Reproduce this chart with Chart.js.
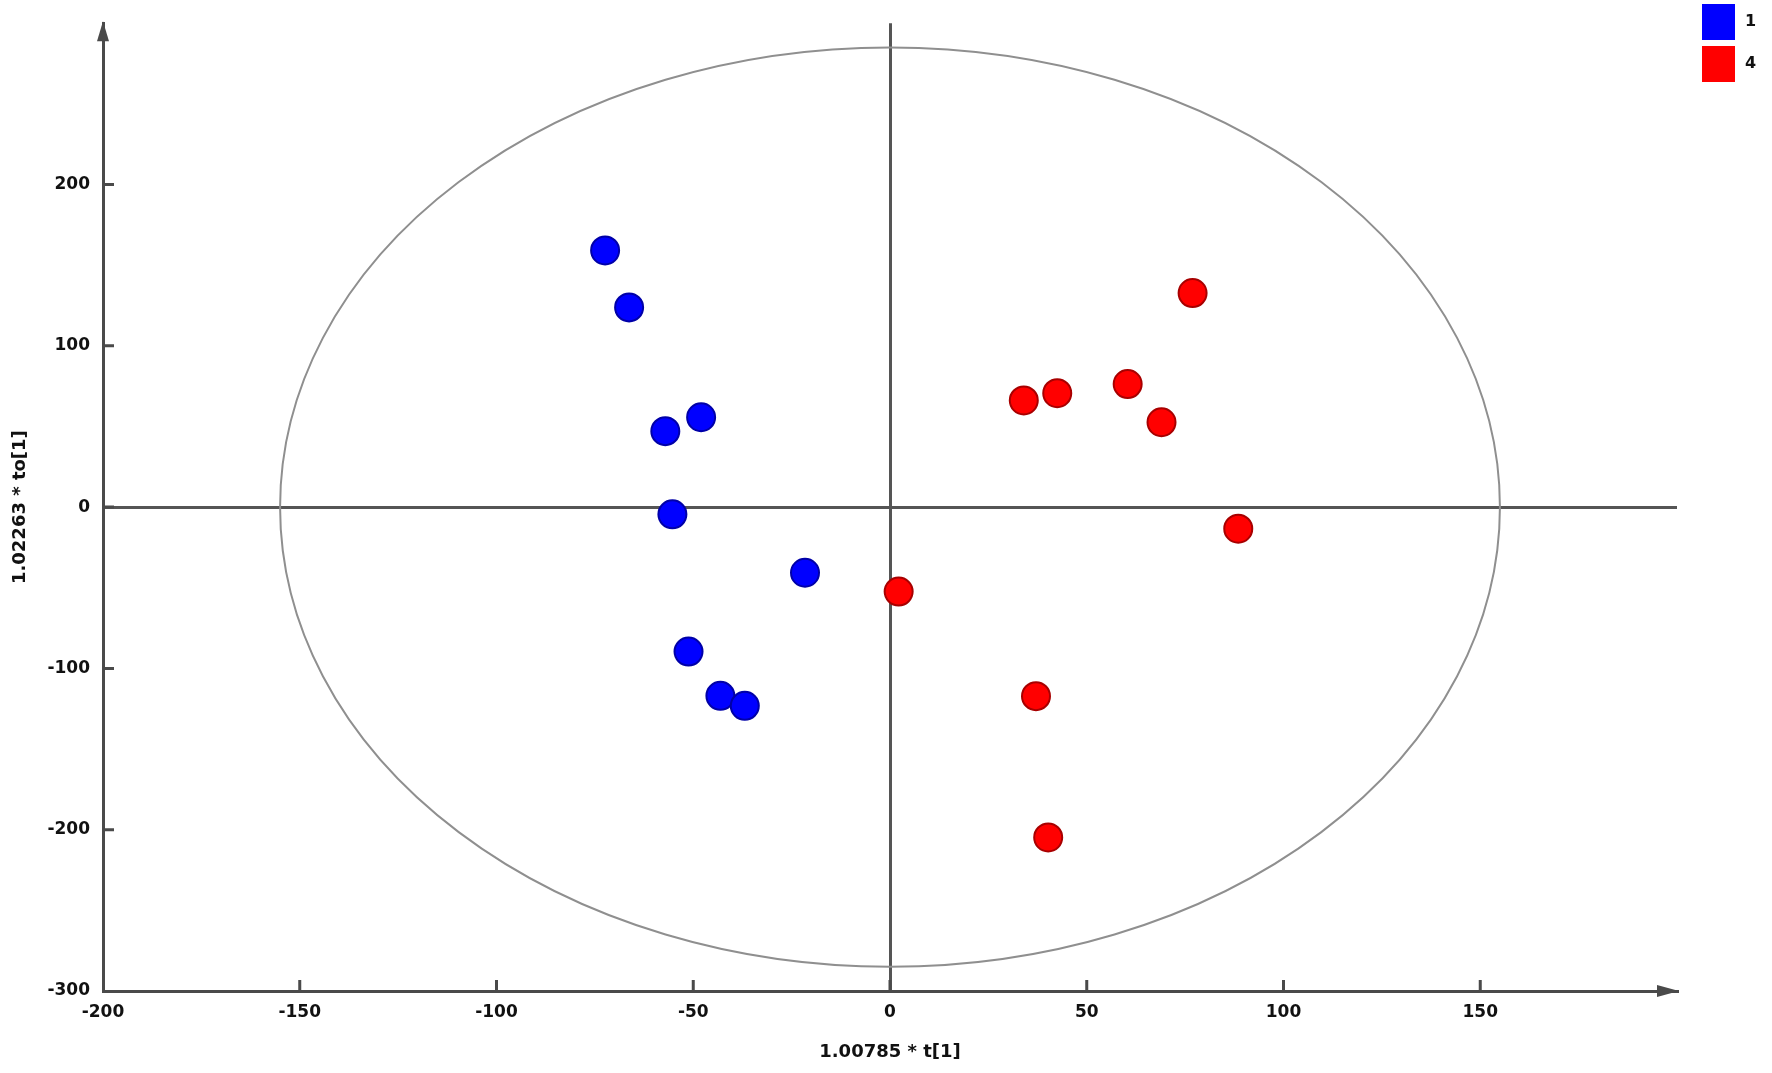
<!DOCTYPE html>
<html>
<head>
<meta charset="utf-8">
<script src="https://cdn.jsdelivr.net/npm/chart.js@4.4.1/dist/chart.umd.min.js"></script>
<style>
  html, body { margin: 0; padding: 0; background: #fff; }
  canvas { display: block; }
</style>
</head>
<body>
<canvas id="scoreChart" width="1772" height="1073"></canvas>
<script>
// grupos e scores
const groupLabels = ['1', '4'];
const groupColors = ['#0000ff', '#ff0000'];
const groupBorders = ['#0000a8', '#a80000'];

const group1X = [-72.4, -66.3, -57.1, -48.0, -55.3, -21.6, -51.2, -43.1, -36.9];
const group1Y = [159.1, 123.8, 47.1, 55.7, -4.5, -40.7, -89.6, -117.0, -123.2];
const group4X = [76.9, 60.4, 42.5, 34.0, 69.0, 88.5, 2.2, 37.1, 40.2];
const group4Y = [132.7, 76.3, 70.6, 66.1, 52.6, -13.4, -52.4, -117.2, -204.8];

// eixos
const xRange = [-200, 200];
const yRange = [-300, 300];
const xStep = 50;
const yStep = 100;
const xTitle = '1.00785 * t[1]';
const yTitle = '1.02263 * to[1]';

// elipse de Hotelling (semi-eixos em unidades dos dados)
const ellipseRadii = [155, 285];

const toPoints = (xs, ys) => xs.map((x, i) => ({ x: x, y: ys[i] }));

const AXIS_COLOR = '#4a4a4a';
const FONT = 'DejaVu Sans';

// desenha elipse, ticks internos, setas e legenda
const pcaFrame = {
    id: 'pcaFrame',
    beforeDatasetsDraw(chart) {
        const { ctx, scales: { x, y } } = chart;
        const cx = x.getPixelForValue(0);
        const cy = y.getPixelForValue(0);
        const rx = x.getPixelForValue(ellipseRadii[0]) - cx;
        const ry = cy - y.getPixelForValue(ellipseRadii[1]);
        ctx.save();
        ctx.strokeStyle = '#8f8f8f';
        ctx.lineWidth = 2;
        ctx.beginPath();
        ctx.ellipse(cx, cy, rx, ry, 0, 0, Math.PI * 2);
        ctx.stroke();
        ctx.restore();
    },
    afterDraw(chart) {
        const { ctx, chartArea: area, scales: { x, y } } = chart;
        ctx.save();
        ctx.strokeStyle = AXIS_COLOR;
        ctx.fillStyle = AXIS_COLOR;
        ctx.lineWidth = 3;

        // ticks para dentro
        ctx.beginPath();
        x.ticks.forEach((t) => {
            if (t.value === xRange[0] || t.value === xRange[1]) return;
            const px = x.getPixelForValue(t.value);
            ctx.moveTo(px, area.bottom);
            ctx.lineTo(px, area.bottom - 11);
        });
        y.ticks.forEach((t) => {
            if (t.value === yRange[0] || t.value === yRange[1]) return;
            const py = y.getPixelForValue(t.value);
            ctx.moveTo(area.left, py);
            ctx.lineTo(area.left + 11, py);
        });
        ctx.stroke();

        // setas
        ctx.beginPath();
        ctx.moveTo(area.left, area.top - 2);
        ctx.lineTo(area.left - 6, area.top + 18);
        ctx.lineTo(area.left + 6, area.top + 18);
        ctx.closePath();
        ctx.fill();
        ctx.beginPath();
        ctx.moveTo(area.right + 2, area.bottom);
        ctx.lineTo(area.right - 20, area.bottom - 6);
        ctx.lineTo(area.right - 20, area.bottom + 6);
        ctx.closePath();
        ctx.fill();

        // legenda
        ctx.font = 'bold 16px ' + FONT;
        ctx.textBaseline = 'middle';
        ctx.textAlign = 'left';
        chart.data.datasets.forEach((ds, i) => {
            const top = 4 + i * 42;
            ctx.fillStyle = ds.backgroundColor;
            ctx.fillRect(1702, top, 33, 36);
            ctx.fillStyle = '#111';
            ctx.fillText(ds.label, 1745, top + 18);
        });
        ctx.restore();
    }
};

const zeroGrid = (ctx) => (ctx.tick && ctx.tick.value === 0 ? '#555' : 'rgba(0,0,0,0)');

const chart = new Chart(document.getElementById('scoreChart'), {
    type: 'scatter',
    data: {
        datasets: [
            {
                label: groupLabels[0],
                data: toPoints(group1X, group1Y),
                backgroundColor: groupColors[0],
                borderColor: groupBorders[0],
                borderWidth: 2,
                pointRadius: 14,
                pointHoverRadius: 14
            },
            {
                label: groupLabels[1],
                data: toPoints(group4X, group4Y),
                backgroundColor: groupColors[1],
                borderColor: groupBorders[1],
                borderWidth: 2,
                pointRadius: 14,
                pointHoverRadius: 14
            }
        ]
    },
    options: {
        responsive: false,
        animation: false,
        layout: { padding: { top: 20, right: 95, left: 0, bottom: 0 } },
        plugins: {
            legend: { display: false },
            tooltip: { enabled: false }
        },
        scales: {
            x: {
                type: 'linear',
                min: xRange[0],
                max: xRange[1],
                afterFit: (scale) => { scale.height = 82; },
                border: { display: true, color: AXIS_COLOR, width: 3 },
                grid: { color: zeroGrid, lineWidth: 3, drawTicks: false },
                ticks: {
                    stepSize: xStep,
                    autoSkip: false,
                    maxRotation: 0,
                    padding: 11,
                    color: '#111',
                    font: { family: FONT, size: 17, weight: 'bold' },
                    callback: (v) => (v === xRange[1] ? '' : v)
                },
                title: {
                    display: true,
                    text: xTitle,
                    color: '#111',
                    padding: { top: 0, bottom: 10 },
                    font: { family: FONT, size: 18, weight: 'bold' }
                }
            },
            y: {
                type: 'linear',
                min: yRange[0],
                max: yRange[1],
                afterFit: (scale) => { scale.width = 103; },
                border: { display: true, color: AXIS_COLOR, width: 3 },
                grid: { color: zeroGrid, lineWidth: 3, drawTicks: false },
                ticks: {
                    stepSize: yStep,
                    autoSkip: false,
                    padding: 13,
                    color: '#111',
                    font: { family: FONT, size: 17, weight: 'bold' },
                    callback: (v) => (v === yRange[1] ? '' : v)
                },
                title: {
                    display: true,
                    text: yTitle,
                    color: '#111',
                    padding: { top: 10, bottom: 0 },
                    font: { family: FONT, size: 18, weight: 'bold' }
                }
            }
        }
    },
    plugins: [pcaFrame]
});
</script>
</body>
</html>
